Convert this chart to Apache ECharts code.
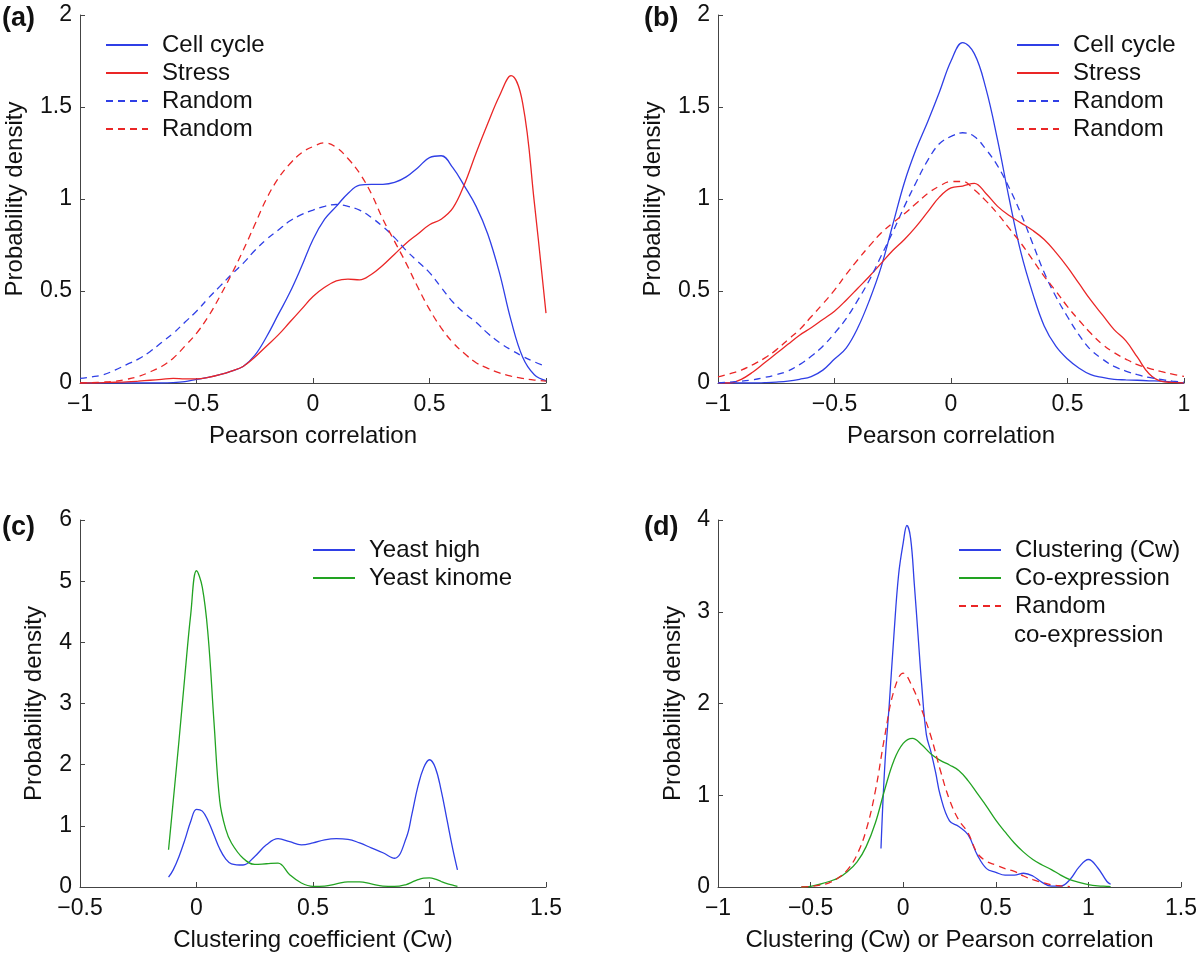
<!DOCTYPE html>
<html>
<head>
<meta charset="utf-8">
<script src="https://cdn.jsdelivr.net/npm/echarts@6/dist/echarts.min.js"></script>
<style>
  html, body { margin: 0; padding: 0; background: #fff; }
  #chart { width: 1200px; height: 953px; }
</style>
</head>
<body>
<div id="chart"></div>
<script>
// (a) and (b): Pearson correlation grid
var xAB = [-1, -0.95, -0.9, -0.85, -0.8, -0.75, -0.7, -0.65, -0.6, -0.55, -0.5, -0.45, -0.4, -0.35, -0.3, -0.25, -0.2, -0.15, -0.1, -0.05,
  0, 0.05, 0.1, 0.15, 0.2, 0.25, 0.3, 0.35, 0.4, 0.45, 0.5, 0.55, 0.6, 0.65, 0.7, 0.75, 0.8, 0.85, 0.9, 0.95, 1];

// panel (a)
var aCellCycle = [0, 0, 0, 0, 0, 0, 0, 0, 0.002, 0.008, 0.02, 0.03, 0.045, 0.065, 0.09, 0.15, 0.25, 0.37, 0.49, 0.63,
  0.78, 0.89, 0.96, 1.03, 1.075, 1.08, 1.08, 1.09, 1.12, 1.17, 1.225, 1.235, 1.17, 1.07, 0.96, 0.81, 0.6, 0.34, 0.14, 0.045, 0.013];
var aStress = [0, 0, 0.002, 0.004, 0.006, 0.01, 0.015, 0.02, 0.025, 0.022, 0.022, 0.03, 0.045, 0.065, 0.09, 0.14, 0.2, 0.26, 0.33, 0.4,
  0.47, 0.52, 0.555, 0.565, 0.56, 0.59, 0.64, 0.7, 0.76, 0.81, 0.86, 0.89, 0.95, 1.08, 1.25, 1.41, 1.56, 1.67, 1.52, 0.98, 0.38];
var aRandomBlue = [0.025, 0.033, 0.045, 0.07, 0.1, 0.13, 0.17, 0.22, 0.27, 0.33, 0.39, 0.46, 0.525, 0.59, 0.65, 0.72, 0.78, 0.83, 0.88, 0.915,
  0.94, 0.96, 0.97, 0.96, 0.94, 0.9, 0.85, 0.79, 0.72, 0.66, 0.6, 0.52, 0.44, 0.38, 0.33, 0.27, 0.22, 0.18, 0.145, 0.115, 0.09];
var aRandomRed = [0, 0.002, 0.005, 0.01, 0.02, 0.035, 0.06, 0.09, 0.135, 0.2, 0.27, 0.36, 0.47, 0.59, 0.72, 0.86, 1.0, 1.11, 1.19, 1.25,
  1.285, 1.305, 1.28, 1.22, 1.14, 1.03, 0.89, 0.77, 0.65, 0.52, 0.4, 0.3, 0.22, 0.16, 0.11, 0.08, 0.055, 0.037, 0.025, 0.016, 0.01];

// panel (b)
var bCellCycle = [0, 0, 0, 0, 0.002, 0.005, 0.01, 0.02, 0.035, 0.07, 0.13, 0.19, 0.3, 0.45, 0.63, 0.86, 1.09, 1.27, 1.42, 1.58,
  1.75, 1.85, 1.79, 1.6, 1.32, 1.0, 0.71, 0.49, 0.31, 0.2, 0.13, 0.08, 0.045, 0.03, 0.02, 0.017, 0.015, 0.012, 0.01, 0.005, 0];
var bStress = [0, 0, 0.02, 0.06, 0.11, 0.16, 0.21, 0.26, 0.3, 0.345, 0.39, 0.45, 0.515, 0.58, 0.65, 0.72, 0.78, 0.85, 0.93, 1.01,
  1.06, 1.07, 1.085, 1.03, 0.96, 0.91, 0.87, 0.83, 0.78, 0.71, 0.63, 0.54, 0.45, 0.37, 0.29, 0.23, 0.14, 0.05, 0.01, 0.003, 0];
var bRandomBlue = [0, 0.005, 0.01, 0.018, 0.03, 0.045, 0.065, 0.1, 0.145, 0.2, 0.27, 0.35, 0.45, 0.56, 0.69, 0.82, 0.96, 1.09, 1.21, 1.3,
  1.34, 1.36, 1.34, 1.27, 1.18, 1.06, 0.92, 0.76, 0.6, 0.47, 0.36, 0.26, 0.18, 0.13, 0.09, 0.065, 0.045, 0.03, 0.02, 0.01, 0.005];
var bRandomRed = [0.033, 0.05, 0.07, 0.1, 0.135, 0.18, 0.235, 0.29, 0.36, 0.43, 0.505, 0.59, 0.67, 0.745, 0.815, 0.87, 0.92, 0.975, 1.03, 1.07,
  1.095, 1.095, 1.05, 0.99, 0.92, 0.84, 0.76, 0.67, 0.58, 0.5, 0.415, 0.34, 0.27, 0.21, 0.165, 0.13, 0.1, 0.08, 0.063, 0.048, 0.036];

// panel (c)
var xC = [-0.12, -0.1, -0.075, -0.05, -0.025, 0, 0.025, 0.05, 0.075, 0.1, 0.125, 0.15, 0.2, 0.25, 0.3, 0.35, 0.4, 0.45, 0.5, 0.55,
  0.6, 0.65, 0.7, 0.75, 0.8, 0.85, 0.9, 0.925, 0.95, 0.975, 1, 1.025, 1.05, 1.075, 1.1, 1.12];
var cYeastHigh = [0.16, 0.28, 0.5, 0.77, 1.07, 1.27, 1.24, 1.08, 0.85, 0.62, 0.46, 0.38, 0.36, 0.5, 0.69, 0.79, 0.74, 0.69, 0.72, 0.77,
  0.79, 0.78, 0.72, 0.64, 0.56, 0.47, 0.8, 1.2, 1.64, 1.95, 2.08, 1.95, 1.58, 1.1, 0.62, 0.28];
var cYeastKinome = [0.61, 1.4, 2.4, 3.45, 4.45, 5.17, 4.9, 4.1, 2.7, 1.4, 0.95, 0.72, 0.47, 0.37, 0.38, 0.39, 0.2, 0.065, 0.01, 0.015,
  0.05, 0.085, 0.085, 0.05, 0.015, 0.01, 0.04, 0.08, 0.12, 0.145, 0.15, 0.13, 0.09, 0.055, 0.03, 0.01];

// panel (d)
var xDClust = [-0.12, -0.1, -0.075, -0.05, -0.025, 0, 0.02, 0.04, 0.06, 0.08, 0.1, 0.125, 0.15, 0.175, 0.2, 0.25, 0.3, 0.35, 0.4, 0.45,
  0.5, 0.55, 0.6, 0.65, 0.7, 0.75, 0.8, 0.85, 0.9, 0.95, 1, 1.05, 1.1, 1.12];
var dClustering = [0.42, 1.3, 2.0, 2.75, 3.4, 3.75, 3.94, 3.8, 3.3, 2.75, 2.2, 1.66, 1.47, 1.25, 1.0, 0.72, 0.66, 0.57, 0.35, 0.2,
  0.16, 0.13, 0.13, 0.15, 0.12, 0.05, 0.01, 0.01, 0.08, 0.22, 0.3, 0.21, 0.06, 0.03];
var xDCoexp = [-0.55, -0.5, -0.45, -0.4, -0.35, -0.3, -0.25, -0.2, -0.15, -0.1, -0.05, 0, 0.05, 0.1, 0.15, 0.2, 0.25, 0.3, 0.35, 0.4,
  0.45, 0.5, 0.55, 0.6, 0.65, 0.7, 0.75, 0.8, 0.85, 0.9, 0.95, 1, 1.05, 1.1, 1.12];
var dCoexpression = [0, 0.007, 0.03, 0.06, 0.1, 0.17, 0.27, 0.44, 0.7, 1.06, 1.38, 1.565, 1.62, 1.55, 1.45, 1.38, 1.33, 1.27, 1.16, 1.02,
  0.88, 0.73, 0.6, 0.48, 0.38, 0.3, 0.24, 0.19, 0.13, 0.08, 0.05, 0.025, 0.012, 0.007, 0.005];
var xDRandom = [-0.55, -0.5, -0.45, -0.4, -0.35, -0.3, -0.25, -0.2, -0.15, -0.1, -0.05, 0, 0.05, 0.1, 0.15, 0.2, 0.25, 0.3, 0.35, 0.4,
  0.45, 0.5, 0.55, 0.6, 0.65, 0.7, 0.75, 0.8, 0.85, 0.9];
var dRandomCoexp = [0, 0.007, 0.02, 0.045, 0.1, 0.19, 0.35, 0.62, 1.05, 1.64, 2.14, 2.33, 2.18, 1.93, 1.64, 1.275, 0.95, 0.73, 0.59, 0.37,
  0.28, 0.24, 0.2, 0.17, 0.12, 0.08, 0.05, 0.025, 0.012, 0.005];

var BLUE = '#2f3fe6';
var RED = '#ea2626';
var GREEN = '#22a322';
var FONT = '"Liberation Sans", Arial, Helvetica, sans-serif';

function pairs(xs, ys) {
    return xs.map(function (x, i) { return [x, ys[i]]; });
}

// 图例里显示的文字
var legendText = {
    'a-cell': 'Cell cycle', 'a-stress': 'Stress', 'a-rb': 'Random', 'a-rr': 'Random',
    'b-cell': 'Cell cycle', 'b-stress': 'Stress', 'b-rb': 'Random', 'b-rr': 'Random',
    'c-high': 'Yeast high', 'c-kin': 'Yeast kinome',
    'd-clust': 'Clustering (Cw)', 'd-coexp': 'Co-expression', 'd-rand': 'Random'
};

function fmtTick(v) {
    return String(v).replace('-', '\u2212');
}

function makeX(idx, min, max, name) {
    return {
        gridIndex: idx, type: 'value', min: min, max: max, interval: 0.5,
        name: name, nameLocation: 'middle', nameGap: 41,
        nameTextStyle: { fontSize: 24, color: '#111', fontFamily: FONT },
        axisLine: { show: true, onZero: false, lineStyle: { color: '#444', width: 1 } },
        axisTick: { show: true, inside: true, length: 5, lineStyle: { color: '#444' } },
        axisLabel: { fontSize: 23, color: '#111', margin: 10, fontFamily: FONT, formatter: fmtTick },
        splitLine: { show: false }
    };
}

function makeY(idx, max, interval, gap) {
    return {
        gridIndex: idx, type: 'value', min: 0, max: max, interval: interval,
        name: 'Probability density', nameLocation: 'middle', nameGap: gap,
        nameTextStyle: { fontSize: 24, color: '#111', fontFamily: FONT },
        axisLine: { show: true, onZero: false, lineStyle: { color: '#444', width: 1 } },
        axisTick: { show: true, inside: true, length: 5, lineStyle: { color: '#444' } },
        axisLabel: { fontSize: 23, color: '#111', margin: 8, fontFamily: FONT, formatter: fmtTick },
        splitLine: { show: false }
    };
}

function line(name, idx, data, color, dashed) {
    return {
        name: name, type: 'line', xAxisIndex: idx, yAxisIndex: idx,
        data: data, symbol: 'none', smooth: 0.4, silent: true,
        lineStyle: { color: color, width: 1.3, type: dashed ? [7, 5] : 'solid' },
        itemStyle: { color: color }
    };
}

function legend(names, left, top) {
    return {
        data: names, left: left, top: top, orient: 'vertical', padding: 0,
        itemWidth: 42, itemHeight: 14, itemGap: 4, selectedMode: false,
        itemStyle: { color: 'rgba(0,0,0,0)', borderWidth: 0, opacity: 0 },
        textStyle: { fontSize: 24, color: '#111', fontFamily: FONT, lineHeight: 24, padding: [0, 0, 0, 9] },
        formatter: function (n) { return legendText[n]; }
    };
}

var panelLabel = { fontSize: 27, fontWeight: 'bold', color: '#111', fontFamily: FONT };

var myChart = echarts.init(document.getElementById('chart'));
var option = {
    backgroundColor: '#fff',
    animation: false,
    title: [
        { text: '(a)', left: 2, top: 5, textStyle: panelLabel, padding: 0 },
        { text: '(b)', left: 644, top: 5, textStyle: panelLabel, padding: 0 },
        { text: '(c)', left: 2, top: 514, textStyle: panelLabel, padding: 0 },
        { text: '(d)', left: 644, top: 514, textStyle: panelLabel, padding: 0 }
    ],
    grid: [
        { left: 80, top: 15, width: 466, height: 368 },
        { left: 718, top: 15, width: 466, height: 368 },
        { left: 80, top: 520, width: 466, height: 367 },
        { left: 718, top: 520, width: 466, height: 367 }
    ],
    xAxis: [
        makeX(0, -1, 1, 'Pearson correlation'),
        makeX(1, -1, 1, 'Pearson correlation'),
        makeX(2, -0.5, 1.5, 'Clustering coefficient (Cw)'),
        makeX(3, -1, 1.5, 'Clustering (Cw) or Pearson correlation')
    ],
    yAxis: [
        makeY(0, 2, 0.5, 53),
        makeY(1, 2, 0.5, 53),
        makeY(2, 6, 1, 34),
        makeY(3, 4, 1, 33)
    ],
    legend: [
        legend(['a-cell', 'a-stress', 'a-rb', 'a-rr'], 105, 33),
        legend(['b-cell', 'b-stress', 'b-rb', 'b-rr'], 1016, 33),
        legend(['c-high', 'c-kin'], 312, 538),
        legend(['d-clust', 'd-coexp', 'd-rand'], 958, 538)
    ],
    graphic: [
        { type: 'text', left: 1014, top: 623, style: { text: 'co-expression', fill: '#111', font: '24px ' + FONT } }
    ],
    series: [
        line('a-cell', 0, pairs(xAB, aCellCycle), BLUE, false),
        line('a-stress', 0, pairs(xAB, aStress), RED, false),
        line('a-rb', 0, pairs(xAB, aRandomBlue), BLUE, true),
        line('a-rr', 0, pairs(xAB, aRandomRed), RED, true),
        line('b-cell', 1, pairs(xAB, bCellCycle), BLUE, false),
        line('b-stress', 1, pairs(xAB, bStress), RED, false),
        line('b-rb', 1, pairs(xAB, bRandomBlue), BLUE, true),
        line('b-rr', 1, pairs(xAB, bRandomRed), RED, true),
        line('c-high', 2, pairs(xC, cYeastHigh), BLUE, false),
        line('c-kin', 2, pairs(xC, cYeastKinome), GREEN, false),
        line('d-clust', 3, pairs(xDClust, dClustering), BLUE, false),
        line('d-coexp', 3, pairs(xDCoexp, dCoexpression), GREEN, false),
        line('d-rand', 3, pairs(xDRandom, dRandomCoexp), RED, true)
    ]
};
myChart.setOption(option);
window.addEventListener('resize', function () {
    myChart.resize();
});
</script>
</body>
</html>
